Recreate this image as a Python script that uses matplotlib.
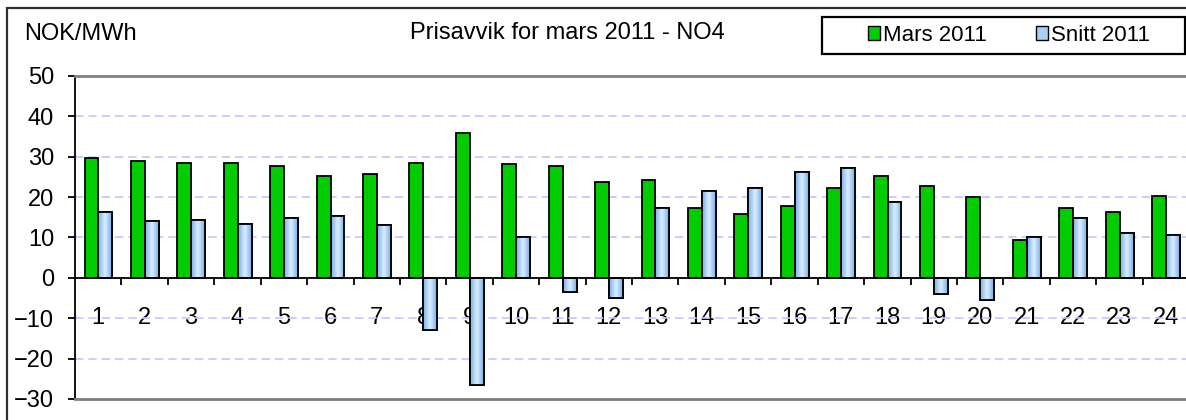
import numpy as np
import matplotlib
matplotlib.use("Agg")
import matplotlib.pyplot as plt
from matplotlib.patches import Patch, Rectangle
from matplotlib.colors import LinearSegmentedColormap

plt.rcParams['font.family'] = ['Liberation Sans', 'DejaVu Sans']

# timer (kategorier) og verdier lest av figuren
hours = [str(h) for h in range(1, 25)]
mars_2011 = [29.6, 29.0, 28.5, 28.5, 27.6, 25.2, 25.7, 28.5, 35.9, 28.1, 27.6, 23.8,
             24.3, 17.4, 15.9, 17.8, 22.3, 25.3, 22.8, 20.0, 9.5, 17.4, 16.3, 20.4]
snitt_2011 = [16.3, 14.0, 14.4, 13.4, 14.9, 15.4, 13.0, -12.8, -26.5, 10.0, -3.5, -5.0,
              17.4, 21.4, 22.3, 26.2, 27.2, 18.8, -4.1, -5.4, 10.0, 14.9, 11.0, 10.5]
y_ticks = list(range(-30, 51, 10))

W, H = 1186, 420
fig = plt.figure(figsize=(W / 100, H / 100), dpi=100)
ax = fig.add_axes([75 / W, 1 - 399 / H, 1114 / W, 323 / H])

x = np.arange(len(hours))
bw = 0.30
green = ax.bar(x - 0.145, mars_2011, bw, color='#00cc00', edgecolor='black', lw=1.3, zorder=3)
blue = ax.bar(x + 0.155, snitt_2011, bw, color='#a8d0f4', edgecolor='black', lw=1.3, zorder=3)

# blå stolper med gradient
cmap = LinearSegmentedColormap.from_list('b', ['#78aee8', '#dcefff', '#78aee8'])
grad = np.linspace(0, 1, 64).reshape(1, -1)
for p in blue:
    bx, by = p.get_x(), p.get_y()
    im = ax.imshow(grad, extent=[bx, bx + p.get_width(), by, by + p.get_height()],
                   aspect='auto', cmap=cmap, zorder=3.5)
    im.set_clip_path(p)
ax.bar(x + 0.155, snitt_2011, bw, fill=False, edgecolor='black', lw=1.3, zorder=4)

ax.set_xlim(-0.5, len(hours) - 0.5)
ax.set_ylim(-30, 50)
ax.set_yticks(y_ticks)
ax.set_xticks(x)
ax.set_xticklabels(hours)
ax.set_xticks(x[:-1] + 0.5, minor=True)

ax.grid(axis='y', color='#c4c4ff', ls=(0, (5, 3)), lw=1.2, zorder=0)

ax.spines['bottom'].set_position(('data', 0))
ax.spines['bottom'].set_linewidth(1.3)
ax.spines['left'].set_linewidth(1.3)
ax.spines['right'].set_visible(False)
ax.spines['top'].set_color('#808080')
ax.spines['top'].set_linewidth(2)
ax.spines['bottom'].set_zorder(5)
ax.axhline(-30, color='#808080', lw=2, clip_on=False, zorder=5)

ax.tick_params(axis='y', direction='out', length=5, width=1.3, labelsize=17, pad=10)
ax.tick_params(axis='x', which='major', length=0, labelsize=17, pad=21)
ax.tick_params(axis='x', which='minor', direction='out', length=5, width=1.3)

fig.text(567 / W, 1 - 33 / H, 'Prisavvik for mars 2011 - NO4', ha='center', va='center', fontsize=17)
fig.text(24 / W, 1 - 34 / H, 'NOK/MWh', ha='left', va='center', fontsize=17)

# ytre ramme og legende-ramme
fig.patches.append(Rectangle((7 / W, -0.1), 1.2, 1.1 - 8 / H, transform=fig.transFigure,
                             fill=False, ec='#303030', lw=1.6))
fig.patches.append(Rectangle((822 / W, 1 - 54 / H), 363 / W, 37 / H, transform=fig.transFigure,
                             fill=False, ec='black', lw=1.6))

handles = [Patch(facecolor='#00cc00', edgecolor='black'),
           Patch(facecolor='#a8d0f4', edgecolor='black')]
fig.legend(handles, ['Mars 2011', 'Snitt 2011'], loc='center', bbox_to_anchor=(1009 / W, 1 - 35.5 / H),
           ncol=2, frameon=False, fontsize=16, handlelength=0.55, handleheight=0.55,
           handletextpad=0.15, columnspacing=2.2)

fig.savefig('out.png', dpi=100)
